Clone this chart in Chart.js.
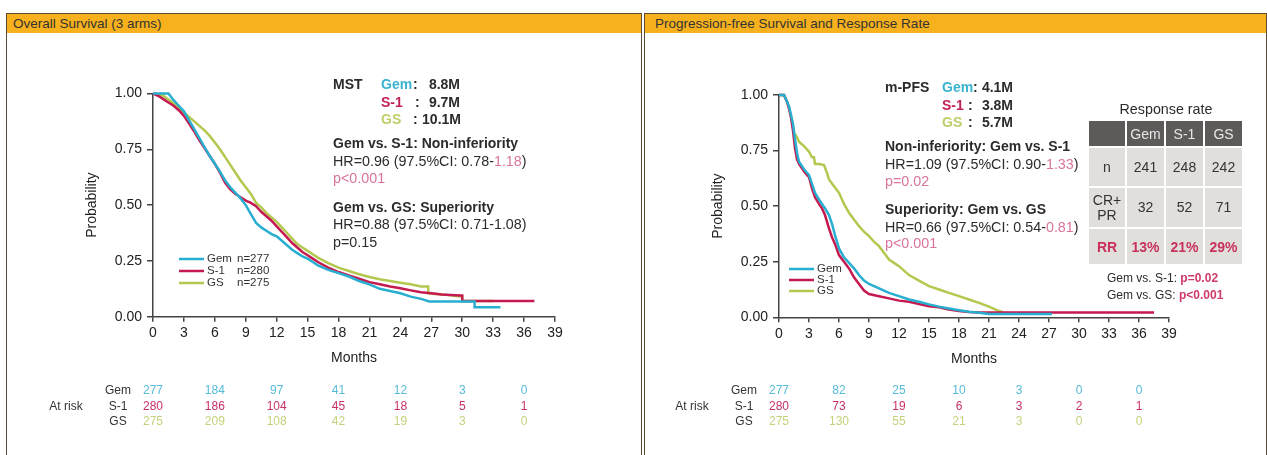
<!DOCTYPE html>
<html>
<head>
<meta charset="utf-8">
<script src="https://cdn.jsdelivr.net/npm/chart.js@4.4.1/dist/chart.umd.min.js"></script>
<style>
body { margin:0; width:1267px; height:455px; overflow:hidden; background:#fff; position:relative; font-family:"Liberation Sans", Arial, sans-serif; color:#2b2b2b; }
.panel { position:absolute; top:13px; height:460px; border:1px solid #5a4a36; box-sizing:border-box; }
.hdr { height:19px; line-height:20px; background:#f6b11d; font-size:13.5px; color:#333; padding-left:6px; }
canvas { position:absolute; }
.t { position:absolute; white-space:nowrap; font-size:14.3px; line-height:16px; transform:translateY(-50%); }
.b { font-weight:bold; font-size:14px; }
.gem { color:#38b3cf; }
.s1 { color:#c2205a; }
.gs { color:#bccf68; }
.pk { color:#d9749c; }
.sm { font-size:12px; }
.rr { position:absolute; left:1087px; top:119px; border-collapse:separate; border-spacing:2px; font-size:14px; text-align:center; }
.rr td { background:#e1dfdc; color:#333; padding:0; }
.rr tr.h td { background:#5f5a5a; color:#e6e6e6; height:25px; }
.rr tr.n td { height:38px; }
.rr tr.c td { height:39px; line-height:15px; }
.rr tr.r td { height:35px; color:#c8325a; font-weight:bold; }
</style>
</head>
<body>
<div class="panel" style="left:6px;width:636px"><div class="hdr">Overall Survival (3 arms)</div></div>
<div class="panel" style="left:644px;width:623px"><div class="hdr" style="padding-left:10px">Progression-free Survival and Response Rate</div></div>
<canvas id="os" width="633" height="421" style="left:7px;top:34px"></canvas>
<canvas id="pfs" width="621" height="421" style="left:645px;top:34px"></canvas>
<script>
const family = '"Liberation Sans", Arial, sans-serif';

// arms
const armLabels = ['Gem', 'S-1', 'GS'];
const armN = [277, 280, 275];
const armColors = ['#27aed0', '#c51a4f', '#b3c84e'];
const riskColors = ['#56bbd8', '#c8306a', '#c6d17c'];

// axis ticks
const monthTicks = [0, 3, 6, 9, 12, 15, 18, 21, 24, 27, 30, 33, 36, 39];
const probTicks = [0, 0.25, 0.5, 0.75, 1];

// overall survival curves (months, probability)
const osGemX = [0, 1.5, 2, 2.5, 3, 3.5, 4, 4.5, 5, 5.5, 6, 6.5, 7, 7.5, 8, 8.5, 9, 9.5, 10, 10.5, 11, 11.5, 12, 12.5, 13, 13.5, 14, 14.5, 15, 15.5, 16, 17, 18, 19, 20, 21, 22, 23, 24, 25, 26, 26.8, 31.2, 31.2, 33.7];
const osGemY = [1, 1, 0.97, 0.945, 0.92, 0.88, 0.84, 0.8, 0.76, 0.72, 0.685, 0.65, 0.61, 0.58, 0.555, 0.53, 0.5, 0.46, 0.42, 0.4, 0.385, 0.37, 0.36, 0.34, 0.32, 0.3, 0.285, 0.27, 0.26, 0.245, 0.23, 0.21, 0.195, 0.18, 0.16, 0.145, 0.125, 0.115, 0.105, 0.09, 0.08, 0.068, 0.068, 0.042, 0.042];
const osS1X = [0, 0.5, 1, 1.5, 2, 2.5, 3, 3.5, 4, 4.5, 5, 5.5, 6, 6.5, 7, 7.5, 8, 8.5, 9, 9.5, 10, 10.5, 11, 11.5, 12, 12.5, 13, 13.5, 14, 14.5, 15, 15.5, 16, 17, 18, 19, 20, 21, 22, 23, 24, 25, 26, 27, 28, 29.8, 30, 30, 37];
const osS1Y = [1, 0.99, 0.975, 0.96, 0.945, 0.925, 0.9, 0.865, 0.83, 0.79, 0.755, 0.72, 0.685, 0.645, 0.6, 0.57, 0.55, 0.535, 0.52, 0.51, 0.495, 0.47, 0.45, 0.43, 0.405, 0.38, 0.355, 0.33, 0.31, 0.29, 0.275, 0.26, 0.245, 0.22, 0.2, 0.185, 0.17, 0.155, 0.145, 0.135, 0.127, 0.118, 0.11, 0.105, 0.1, 0.095, 0.095, 0.07, 0.07];
const osGsX = [0, 1, 2, 2.5, 3, 3.5, 4, 4.5, 5, 5.5, 6, 6.5, 7, 7.5, 8, 8.5, 9, 9.5, 10, 10.5, 11, 11.5, 12, 12.5, 13, 13.5, 14, 14.5, 15, 15.5, 16, 17, 18, 19, 20, 21, 22, 23, 24, 25, 26, 26.7, 26.7, 28, 29.8, 30, 30, 33];
const osGsY = [1, 0.99, 0.955, 0.935, 0.915, 0.895, 0.875, 0.855, 0.835, 0.81, 0.78, 0.75, 0.715, 0.68, 0.645, 0.61, 0.58, 0.55, 0.51, 0.49, 0.465, 0.445, 0.425, 0.4, 0.375, 0.35, 0.325, 0.31, 0.295, 0.28, 0.265, 0.24, 0.22, 0.205, 0.19, 0.178, 0.168, 0.16, 0.152, 0.145, 0.135, 0.135, 0.105, 0.1, 0.09, 0.09, 0.07, 0.07];

// progression-free survival curves
const pfsGemX = [0, 0.5, 0.8, 1, 1.2, 1.4, 1.6, 1.8, 2, 2.3, 2.6, 3, 3.3, 3.6, 4, 4.3, 4.6, 5, 5.3, 5.6, 6, 6.5, 7, 7.5, 8, 8.5, 9, 9.5, 10, 11, 12, 13, 14, 15, 16, 17, 18, 19, 20, 21, 27.3];
const pfsGemY = [1, 1, 0.97, 0.95, 0.91, 0.87, 0.8, 0.74, 0.7, 0.68, 0.66, 0.64, 0.6, 0.56, 0.53, 0.51, 0.49, 0.46, 0.42, 0.37, 0.31, 0.27, 0.245, 0.22, 0.19, 0.165, 0.15, 0.14, 0.13, 0.11, 0.095, 0.08, 0.07, 0.058, 0.048, 0.04, 0.032, 0.025, 0.02, 0.015, 0.015];
const pfsS1X = [0, 0.5, 0.8, 1, 1.2, 1.4, 1.6, 1.8, 2, 2.3, 2.6, 3, 3.3, 3.6, 4, 4.3, 4.6, 5, 5.3, 5.6, 6, 6.5, 7, 7.5, 8, 8.5, 9, 10, 11, 12, 13, 14, 15, 16, 17, 18, 19, 20, 37.5];
const pfsS1Y = [1, 1, 0.97, 0.94, 0.9, 0.84, 0.76, 0.71, 0.69, 0.67, 0.65, 0.63, 0.58, 0.54, 0.51, 0.49, 0.46, 0.4, 0.36, 0.33, 0.28, 0.25, 0.22, 0.18, 0.15, 0.12, 0.105, 0.095, 0.085, 0.075, 0.07, 0.06, 0.05, 0.045, 0.035, 0.028, 0.024, 0.022, 0.022];
const pfsGsX = [0, 0.5, 0.8, 1, 1.3, 1.5, 1.8, 2, 2.5, 3, 3.3, 3.5, 3.6, 4, 4.5, 4.8, 5, 5.5, 6, 6.5, 7, 7.5, 8, 8.5, 9, 9.5, 10, 10.5, 11, 11.5, 12, 12.5, 13, 14, 15, 16, 17, 18, 19, 20, 21, 21.5, 22, 22.5];
const pfsGsY = [1, 1, 0.97, 0.94, 0.88, 0.83, 0.81, 0.79, 0.77, 0.745, 0.72, 0.72, 0.69, 0.69, 0.685, 0.65, 0.62, 0.59, 0.56, 0.51, 0.47, 0.44, 0.41, 0.385, 0.365, 0.34, 0.32, 0.29, 0.26, 0.245, 0.23, 0.21, 0.19, 0.165, 0.14, 0.125, 0.11, 0.095, 0.08, 0.065, 0.048, 0.038, 0.028, 0.022];

// numbers at risk
const riskMonths = [0, 6, 12, 18, 24, 30, 36];
const osRiskGem = [277, 184, 97, 41, 12, 3, 0];
const osRiskS1 = [280, 186, 104, 45, 18, 5, 1];
const osRiskGs = [275, 209, 108, 42, 19, 3, 0];
const pfsRiskGem = [277, 82, 25, 10, 3, 0, 0];
const pfsRiskS1 = [280, 73, 19, 6, 3, 2, 1];
const pfsRiskGs = [275, 130, 55, 21, 3, 0, 0];

// response rate table
const rrCols = ['Gem', 'S-1', 'GS'];
const rrN = [241, 248, 242];
const rrResp = [32, 52, 71];
const rrRate = ['13%', '21%', '29%'];

function pts(xs, ys) {
    return xs.map((x, i) => ({ x: x, y: ys[i] }));
}

function curve(i, xs, ys) {
    return {
        label: armLabels[i],
        data: pts(xs, ys),
        borderColor: armColors[i],
        borderWidth: 2.5,
        pointRadius: 0,
        tension: 0,
        fill: false,
        clip: false
    };
}

// legend + numbers at risk drawn under the plot
function makeOverlay(cfg) {
    return {
        id: 'overlay',
        afterDraw(chart) {
            const ctx = chart.ctx;
            const xs = chart.scales.x;
            const left = chart.chartArea.left;
            ctx.save();
            ctx.textBaseline = 'middle';
            // legend
            ctx.font = '11.5px ' + family;
            armLabels.forEach((lab, i) => {
                const y = cfg.legendY + i * cfg.legendGap;
                ctx.strokeStyle = armColors[i];
                ctx.lineWidth = 2.5;
                ctx.beginPath();
                ctx.moveTo(left + cfg.legendX, y);
                ctx.lineTo(left + cfg.legendX + 25, y);
                ctx.stroke();
                ctx.fillStyle = '#333';
                ctx.textAlign = 'left';
                ctx.fillText(lab, left + cfg.legendX + 28, y);
                if (cfg.showN) ctx.fillText('n=' + armN[i], left + cfg.legendX + 58, y);
            });
            // at risk
            ctx.font = '12px ' + family;
            const rowY = [357, 373, 388];
            ctx.fillStyle = '#333';
            ctx.textAlign = 'center';
            ctx.fillText('At risk', left - 87, rowY[1]);
            cfg.risk.forEach((row, i) => {
                ctx.fillStyle = '#333';
                ctx.fillText(armLabels[i], left - 35, rowY[i]);
                ctx.fillStyle = riskColors[i];
                row.forEach((v, j) => {
                    ctx.fillText(String(v), xs.getPixelForValue(riskMonths[j]), rowY[i]);
                });
            });
            ctx.restore();
        }
    };
}

function kmOptions(pad) {
    return {
        responsive: false,
        animation: false,
        layout: { padding: pad },
        plugins: { legend: { display: false }, tooltip: { enabled: false } },
        scales: {
            x: {
                type: 'linear', min: 0, max: 39,
                afterBuildTicks: s => { s.ticks = monthTicks.map(v => ({ value: v })); },
                afterFit: s => { s.height = 50; },
                grid: { drawOnChartArea: false, tickLength: 5, color: '#444', lineWidth: 1.5 },
                border: { color: '#444', width: 1.5 },
                ticks: { color: '#222', font: { size: 14, family: family }, padding: 3, maxRotation: 0, autoSkip: false },
                title: { display: true, text: 'Months', color: '#222', font: { size: 14, family: family }, padding: { top: 0, bottom: 0 } }
            },
            y: {
                type: 'linear', min: 0, max: 1,
                afterBuildTicks: s => { s.ticks = probTicks.map(v => ({ value: v })); },
                afterFit: s => { s.width = 70; },
                grid: { drawOnChartArea: false, tickLength: 6, color: '#444', lineWidth: 1.5 },
                border: { color: '#444', width: 1.5 },
                ticks: { color: '#222', font: { size: 14, family: family }, padding: 5, callback: v => v.toFixed(2) },
                title: { display: true, text: 'Probability', color: '#222', font: { size: 14, family: family }, padding: { top: 1, bottom: 0 } }
            }
        }
    };
}

new Chart(document.getElementById('os'), {
    type: 'line',
    data: { datasets: [curve(0, osGemX, osGemY), curve(1, osS1X, osS1Y), curve(2, osGsX, osGsY)] },
    options: kmOptions({ left: 76, right: 85, top: 59.5, bottom: 88.3 }),
    plugins: [makeOverlay({ legendX: 26, legendY: 225, legendGap: 12, showN: true, risk: [osRiskGem, osRiskS1, osRiskGs] })]
});

new Chart(document.getElementById('pfs'), {
    type: 'line',
    data: { datasets: [curve(0, pfsGemX, pfsGemY), curve(1, pfsS1X, pfsS1Y), curve(2, pfsGsX, pfsGsY)] },
    options: kmOptions({ left: 64, right: 97, top: 61, bottom: 87.7 }),
    plugins: [makeOverlay({ legendX: 10, legendY: 235, legendGap: 11, showN: false, risk: [pfsRiskGem, pfsRiskS1, pfsRiskGs] })]
});

// text annotations
function put(x, y, html, cls, align) {
    const d = document.createElement('div');
    d.className = 't ' + (cls || '');
    d.innerHTML = html;
    d.style.left = x + 'px';
    d.style.top = y + 'px';
    if (align === 'right') d.style.transform = 'translate(-100%,-50%)';
    if (align === 'center') d.style.transform = 'translate(-50%,-50%)';
    document.body.appendChild(d);
}

// overall survival
put(333, 84, 'MST', 'b');
put(381, 84, 'Gem', 'b gem');
put(381, 102, 'S-1', 'b s1');
put(381, 119, 'GS', 'b gs');
put(413, 84, ':', 'b');
put(415, 102, ':', 'b');
put(413, 119, ':', 'b');
put(460, 84, '8.8M', 'b', 'right');
put(460, 102, '9.7M', 'b', 'right');
put(461, 119, '10.1M', 'b', 'right');
put(333, 143, 'Gem vs. S-1: Non-inferiority', 'b');
put(333, 161, 'HR=0.96 (97.5%CI: 0.78-<span class="pk">1.18</span>)');
put(333, 178, 'p&lt;0.001', 'pk');
put(333, 207, 'Gem vs. GS: Superiority', 'b');
put(333, 224, 'HR=0.88 (97.5%CI: 0.71-1.08)');
put(333, 242, 'p=0.15');

// progression-free survival
put(885, 87, 'm-PFS', 'b');
put(942, 87, 'Gem', 'b gem');
put(942, 105, 'S-1', 'b s1');
put(942, 122, 'GS', 'b gs');
put(973, 87, ':', 'b');
put(968, 105, ':', 'b');
put(968, 122, ':', 'b');
put(1013, 87, '4.1M', 'b', 'right');
put(1013, 105, '3.8M', 'b', 'right');
put(1013, 122, '5.7M', 'b', 'right');
put(885, 146, 'Non-inferiority: Gem vs. S-1', 'b');
put(885, 164, 'HR=1.09 (97.5%CI: 0.90-<span class="pk">1.33</span>)');
put(885, 181, 'p=0.02', 'pk');
put(885, 209, 'Superiority: Gem vs. GS', 'b');
put(885, 227, 'HR=0.66 (97.5%CI: 0.54-<span class="pk">0.81</span>)');
put(885, 243, 'p&lt;0.001', 'pk');

put(1166, 109, 'Response rate', '', 'center');
const tbl = document.createElement('table');
tbl.className = 'rr';
let html = '<tr class="h"><td style="width:36px"></td>' + rrCols.map(c => '<td style="width:37px">' + c + '</td>').join('') + '</tr>';
html += '<tr class="n"><td>n</td>' + rrN.map(v => '<td>' + v + '</td>').join('') + '</tr>';
html += '<tr class="c"><td>CR+<br>PR</td>' + rrResp.map(v => '<td>' + v + '</td>').join('') + '</tr>';
html += '<tr class="r"><td>RR</td>' + rrRate.map(v => '<td>' + v + '</td>').join('') + '</tr>';
tbl.innerHTML = html;
document.body.appendChild(tbl);

put(1107, 278, 'Gem vs. S-1: <b style="color:#cf3a68">p=0.02</b>', 'sm');
put(1107, 295, 'Gem vs. GS: <b style="color:#cf3a68">p&lt;0.001</b>', 'sm');
</script>
</body>
</html>
